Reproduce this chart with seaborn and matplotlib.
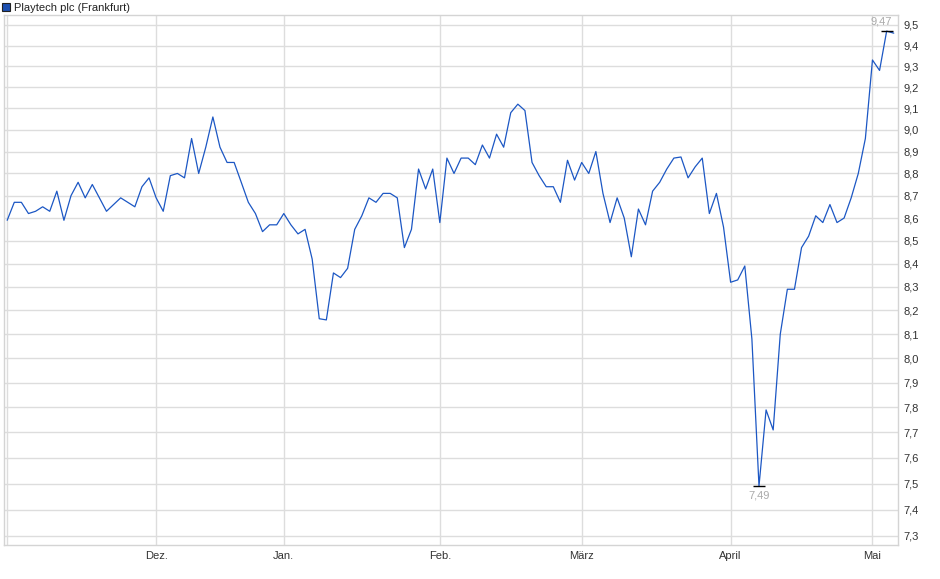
import numpy as np
import pandas as pd
import matplotlib
matplotlib.use("Agg")
import matplotlib.pyplot as plt
from matplotlib.lines import Line2D
from matplotlib.ticker import FixedLocator, NullLocator
import seaborn as sns

# daily closing prices (EUR), one value per trading day
prices = [
    8.59, 8.67, 8.67, 8.62, 8.63, 8.65, 8.63, 8.72, 8.59, 8.70,
    8.76, 8.69, 8.75, 8.69, 8.63, 8.66, 8.69, 8.67, 8.65, 8.74,
    8.78, 8.69, 8.63, 8.79, 8.80, 8.78, 8.96, 8.80, 8.92, 9.06,
    8.92, 8.85, 8.85, 8.76, 8.67, 8.62, 8.54, 8.57, 8.57, 8.62,
    8.57, 8.53, 8.55, 8.42, 8.165, 8.16, 8.36, 8.34, 8.38, 8.55,
    8.61, 8.69, 8.67, 8.71, 8.71, 8.69, 8.47, 8.55, 8.82, 8.73,
    8.82, 8.58, 8.87, 8.80, 8.87, 8.87, 8.84, 8.93, 8.87, 8.98,
    8.92, 9.08, 9.12, 9.09, 8.85, 8.79, 8.74, 8.74, 8.67, 8.86,
    8.77, 8.85, 8.80, 8.90, 8.71, 8.58, 8.69, 8.60, 8.43, 8.64,
    8.57, 8.72, 8.76, 8.82, 8.87, 8.875, 8.78, 8.83, 8.87, 8.62,
    8.71, 8.56, 8.32, 8.33, 8.39, 8.08, 7.49, 7.79, 7.71, 8.10,
    8.29, 8.29, 8.47, 8.52, 8.61, 8.58, 8.66, 8.58, 8.60, 8.69,
    8.80, 8.96, 9.33, 9.28, 9.47, 9.46,
]

# first trading day of each month (index into prices)
month_pos = [0, 21, 39, 61, 81, 102, 122]
month_labels = ["", "Dez.", "Jan.", "Feb.", "März", "April", "Mai"]

y_ticks = [7.3, 7.4, 7.5, 7.6, 7.7, 7.8, 7.9, 8.0, 8.1, 8.2, 8.3,
           8.4, 8.5, 8.6, 8.7, 8.8, 8.9, 9.0, 9.1, 9.2, 9.3, 9.4, 9.5]

df = pd.DataFrame({"day": np.arange(len(prices)), "price": prices})

sns.set_style("white")
plt.rcParams["font.family"] = ["Liberation Sans", "DejaVu Sans"]

line_color = "#1c57c4"
grid_color = "#dddddd"
text_color = "#333333"

fig = plt.figure(figsize=(9.4, 5.79), dpi=100)
ax = fig.add_axes([4 / 940, 1 - 545 / 579, 894 / 940, 530 / 579])

sns.lineplot(data=df, x="day", y="price", ax=ax, color=line_color,
             linewidth=0.9, zorder=3)

ax.set_yscale("log")
ax.set_ylim(7.266, 9.549)
ax.set_xlim(-0.45, 125.6)

ax.yaxis.set_major_locator(FixedLocator(y_ticks))
ax.yaxis.set_minor_locator(NullLocator())
ax.set_yticklabels([f"{v:.1f}".replace(".", ",") for v in y_ticks])
ax.yaxis.tick_right()
ax.set_xticks(month_pos)
ax.set_xticklabels(month_labels)
ax.tick_params(axis="both", length=0, labelsize=8, colors=text_color)
ax.tick_params(axis="y", pad=4)
ax.tick_params(axis="x", pad=4)

ax.grid(True, color=grid_color, linewidth=1.0)
ax.set_axisbelow(True)
for s in ax.spines.values():
    s.set_color("#d4d4d4")
    s.set_linewidth(1.0)
ax.set_xlabel("")
ax.set_ylabel("")

# high / low markers
hi = int(np.argmax(prices))
lo = int(np.argmin(prices))
ax.plot([hi], [prices[hi]], marker="_", markersize=9, color="black",
        markeredgewidth=1.0, zorder=4)
ax.plot([lo], [prices[lo]], marker="_", markersize=9, color="black",
        markeredgewidth=1.0, zorder=4)
ax.annotate(f"{prices[hi]:.2f}".replace(".", ","), (hi, prices[hi]),
            xytext=(-4, 3), textcoords="offset points", ha="center",
            va="bottom", fontsize=8, color="#aaaaaa")
ax.annotate(f"{prices[lo]:.2f}".replace(".", ","), (lo, prices[lo]),
            xytext=(0, -3), textcoords="offset points", ha="center",
            va="top", fontsize=8, color="#aaaaaa")

handle = Line2D([], [], linestyle="none", marker="s", markersize=6,
                markerfacecolor="#1c4fb0", markeredgecolor="#222222",
                markeredgewidth=0.8)
fig.legend([handle], ["Playtech plc (Frankfurt)"], loc="upper left",
           bbox_to_anchor=(-0.009, 1.012), frameon=False, fontsize=8,
           handlelength=0.8, handletextpad=0.3, labelcolor="#222222")

fig.savefig("out.png", dpi=100)
